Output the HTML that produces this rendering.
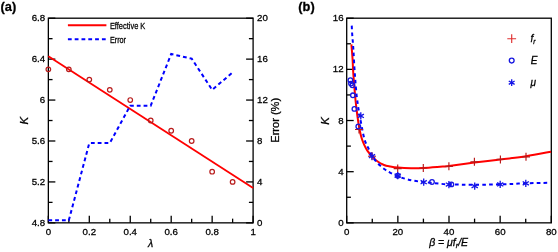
<!DOCTYPE html>
<html><head><meta charset="utf-8"><style>html,body{margin:0;padding:0;background:#fff;width:558px;height:252px;overflow:hidden}</style></head>
<body><svg width="558" height="252" viewBox="0 0 558 252" style="display:block;will-change:transform" font-family='"Liberation Sans", sans-serif'><style>text{stroke:#000;stroke-width:0.28px;paint-order:stroke}</style><rect width="558" height="252" fill="#fff"/><rect x="48.35" y="18.20" width="204.75" height="204.65" fill="none" stroke="#000" stroke-width="1.3"/><line x1="48.35" y1="222.85" x2="48.35" y2="215.85" stroke="#000" stroke-width="1.3"/><line x1="68.83" y1="222.85" x2="68.83" y2="218.65" stroke="#000" stroke-width="1.3"/><line x1="89.30" y1="222.85" x2="89.30" y2="215.85" stroke="#000" stroke-width="1.3"/><line x1="109.78" y1="222.85" x2="109.78" y2="218.65" stroke="#000" stroke-width="1.3"/><line x1="130.25" y1="222.85" x2="130.25" y2="215.85" stroke="#000" stroke-width="1.3"/><line x1="150.72" y1="222.85" x2="150.72" y2="218.65" stroke="#000" stroke-width="1.3"/><line x1="171.20" y1="222.85" x2="171.20" y2="215.85" stroke="#000" stroke-width="1.3"/><line x1="191.67" y1="222.85" x2="191.67" y2="218.65" stroke="#000" stroke-width="1.3"/><line x1="212.15" y1="222.85" x2="212.15" y2="215.85" stroke="#000" stroke-width="1.3"/><line x1="232.62" y1="222.85" x2="232.62" y2="218.65" stroke="#000" stroke-width="1.3"/><line x1="253.10" y1="222.85" x2="253.10" y2="215.85" stroke="#000" stroke-width="1.3"/><text x="48.35" y="235.30" text-anchor="middle" font-size="9.7" >0</text><text x="89.30" y="235.30" text-anchor="middle" font-size="9.7" >0.2</text><text x="130.25" y="235.30" text-anchor="middle" font-size="9.7" >0.4</text><text x="171.20" y="235.30" text-anchor="middle" font-size="9.7" >0.6</text><text x="212.15" y="235.30" text-anchor="middle" font-size="9.7" >0.8</text><text x="253.10" y="235.30" text-anchor="middle" font-size="9.7" >1</text><line x1="48.35" y1="222.85" x2="55.35" y2="222.85" stroke="#000" stroke-width="1.3"/><line x1="48.35" y1="202.38" x2="52.55" y2="202.38" stroke="#000" stroke-width="1.3"/><line x1="48.35" y1="181.92" x2="55.35" y2="181.92" stroke="#000" stroke-width="1.3"/><line x1="48.35" y1="161.45" x2="52.55" y2="161.45" stroke="#000" stroke-width="1.3"/><line x1="48.35" y1="140.99" x2="55.35" y2="140.99" stroke="#000" stroke-width="1.3"/><line x1="48.35" y1="120.52" x2="52.55" y2="120.52" stroke="#000" stroke-width="1.3"/><line x1="48.35" y1="100.06" x2="55.35" y2="100.06" stroke="#000" stroke-width="1.3"/><line x1="48.35" y1="79.59" x2="52.55" y2="79.59" stroke="#000" stroke-width="1.3"/><line x1="48.35" y1="59.13" x2="55.35" y2="59.13" stroke="#000" stroke-width="1.3"/><line x1="48.35" y1="38.67" x2="52.55" y2="38.67" stroke="#000" stroke-width="1.3"/><line x1="48.35" y1="18.20" x2="55.35" y2="18.20" stroke="#000" stroke-width="1.3"/><text x="45.20" y="225.85" text-anchor="end" font-size="9.7" >4.8</text><text x="45.20" y="184.92" text-anchor="end" font-size="9.7" >5.2</text><text x="45.20" y="143.99" text-anchor="end" font-size="9.7" >5.6</text><text x="45.20" y="103.06" text-anchor="end" font-size="9.7" >6</text><text x="45.20" y="62.13" text-anchor="end" font-size="9.7" >6.4</text><text x="45.20" y="21.20" text-anchor="end" font-size="9.7" >6.8</text><line x1="253.10" y1="222.85" x2="246.10" y2="222.85" stroke="#000" stroke-width="1.3"/><line x1="253.10" y1="202.38" x2="248.90" y2="202.38" stroke="#000" stroke-width="1.3"/><line x1="253.10" y1="181.92" x2="246.10" y2="181.92" stroke="#000" stroke-width="1.3"/><line x1="253.10" y1="161.45" x2="248.90" y2="161.45" stroke="#000" stroke-width="1.3"/><line x1="253.10" y1="140.99" x2="246.10" y2="140.99" stroke="#000" stroke-width="1.3"/><line x1="253.10" y1="120.52" x2="248.90" y2="120.52" stroke="#000" stroke-width="1.3"/><line x1="253.10" y1="100.06" x2="246.10" y2="100.06" stroke="#000" stroke-width="1.3"/><line x1="253.10" y1="79.59" x2="248.90" y2="79.59" stroke="#000" stroke-width="1.3"/><line x1="253.10" y1="59.13" x2="246.10" y2="59.13" stroke="#000" stroke-width="1.3"/><line x1="253.10" y1="38.66" x2="248.90" y2="38.66" stroke="#000" stroke-width="1.3"/><line x1="253.10" y1="18.20" x2="246.10" y2="18.20" stroke="#000" stroke-width="1.3"/><text x="257.00" y="225.85" text-anchor="start" font-size="9.7" >0</text><text x="257.00" y="184.92" text-anchor="start" font-size="9.7" >4</text><text x="257.00" y="143.99" text-anchor="start" font-size="9.7" >8</text><text x="257.00" y="103.06" text-anchor="start" font-size="9.7" >12</text><text x="257.00" y="62.13" text-anchor="start" font-size="9.7" >16</text><text x="257.00" y="21.20" text-anchor="start" font-size="9.7" >20</text><text x="150.60" y="247.00" text-anchor="middle" font-size="10.5" font-style="italic">λ</text><text transform="translate(27.8,120.7) rotate(-90)" text-anchor="middle" font-size="11.4" font-style="italic">K</text><text transform="translate(279.0,120.3) rotate(-90)" text-anchor="middle" font-size="10.4" textLength="44.8" lengthAdjust="spacingAndGlyphs">Error (%)</text><line x1="48.35" y1="56.20" x2="253.10" y2="188.00" stroke="#ff0000" stroke-width="1.8"/><polyline points="48.35,220.29 68.83,220.29 89.30,143.04 109.78,143.04 130.25,105.69 150.72,105.69 171.20,54.01 191.67,58.62 212.15,89.83 232.62,72.43" fill="none" stroke="#0000ff" stroke-width="2" stroke-dasharray="3.8 3"/><circle cx="48.35" cy="69.36" r="2.3" fill="none" stroke="#b81c1c" stroke-width="1.2"/><circle cx="68.83" cy="69.36" r="2.3" fill="none" stroke="#b81c1c" stroke-width="1.2"/><circle cx="89.30" cy="79.59" r="2.3" fill="none" stroke="#b81c1c" stroke-width="1.2"/><circle cx="109.78" cy="89.83" r="2.3" fill="none" stroke="#b81c1c" stroke-width="1.2"/><circle cx="130.25" cy="100.06" r="2.3" fill="none" stroke="#b81c1c" stroke-width="1.2"/><circle cx="150.72" cy="120.52" r="2.3" fill="none" stroke="#b81c1c" stroke-width="1.2"/><circle cx="171.20" cy="130.76" r="2.3" fill="none" stroke="#b81c1c" stroke-width="1.2"/><circle cx="191.67" cy="140.99" r="2.3" fill="none" stroke="#b81c1c" stroke-width="1.2"/><circle cx="212.15" cy="171.69" r="2.3" fill="none" stroke="#b81c1c" stroke-width="1.2"/><circle cx="232.62" cy="181.92" r="2.3" fill="none" stroke="#b81c1c" stroke-width="1.2"/><line x1="67.90" y1="25.30" x2="106.40" y2="25.30" stroke="#ff0000" stroke-width="2.0"/><line x1="67.9" y1="39.2" x2="106.4" y2="39.2" stroke="#0000ff" stroke-width="2" stroke-dasharray="3.8 3"/><text x="109.90" y="28.60" text-anchor="start" font-size="9.8" textLength="35.4" lengthAdjust="spacingAndGlyphs">Effective K</text><text x="109.90" y="42.60" text-anchor="start" font-size="9.8" textLength="16.1" lengthAdjust="spacingAndGlyphs">Error</text><text x="0.60" y="11.00" text-anchor="start" font-size="12.8" font-weight="bold">(a)</text><rect x="346.70" y="18.20" width="204.60" height="204.65" fill="none" stroke="#000" stroke-width="1.3"/><line x1="346.70" y1="222.85" x2="346.70" y2="215.85" stroke="#000" stroke-width="1.3"/><line x1="372.27" y1="222.85" x2="372.27" y2="218.65" stroke="#000" stroke-width="1.3"/><line x1="397.85" y1="222.85" x2="397.85" y2="215.85" stroke="#000" stroke-width="1.3"/><line x1="423.42" y1="222.85" x2="423.42" y2="218.65" stroke="#000" stroke-width="1.3"/><line x1="449.00" y1="222.85" x2="449.00" y2="215.85" stroke="#000" stroke-width="1.3"/><line x1="474.57" y1="222.85" x2="474.57" y2="218.65" stroke="#000" stroke-width="1.3"/><line x1="500.15" y1="222.85" x2="500.15" y2="215.85" stroke="#000" stroke-width="1.3"/><line x1="525.72" y1="222.85" x2="525.72" y2="218.65" stroke="#000" stroke-width="1.3"/><line x1="551.30" y1="222.85" x2="551.30" y2="215.85" stroke="#000" stroke-width="1.3"/><text x="346.70" y="235.30" text-anchor="middle" font-size="9.7" >0</text><text x="397.85" y="235.30" text-anchor="middle" font-size="9.7" >20</text><text x="449.00" y="235.30" text-anchor="middle" font-size="9.7" >40</text><text x="500.15" y="235.30" text-anchor="middle" font-size="9.7" >60</text><text x="551.30" y="235.30" text-anchor="middle" font-size="9.7" >80</text><line x1="346.70" y1="222.85" x2="353.70" y2="222.85" stroke="#000" stroke-width="1.3"/><line x1="346.70" y1="197.27" x2="350.90" y2="197.27" stroke="#000" stroke-width="1.3"/><line x1="346.70" y1="171.69" x2="353.70" y2="171.69" stroke="#000" stroke-width="1.3"/><line x1="346.70" y1="146.11" x2="350.90" y2="146.11" stroke="#000" stroke-width="1.3"/><line x1="346.70" y1="120.52" x2="353.70" y2="120.52" stroke="#000" stroke-width="1.3"/><line x1="346.70" y1="94.94" x2="350.90" y2="94.94" stroke="#000" stroke-width="1.3"/><line x1="346.70" y1="69.36" x2="353.70" y2="69.36" stroke="#000" stroke-width="1.3"/><line x1="346.70" y1="43.78" x2="350.90" y2="43.78" stroke="#000" stroke-width="1.3"/><line x1="346.70" y1="18.20" x2="353.70" y2="18.20" stroke="#000" stroke-width="1.3"/><text x="343.60" y="225.85" text-anchor="end" font-size="9.7" >0</text><text x="343.60" y="174.69" text-anchor="end" font-size="9.7" >4</text><text x="343.60" y="123.52" text-anchor="end" font-size="9.7" >8</text><text x="343.60" y="72.36" text-anchor="end" font-size="9.7" >12</text><text x="343.60" y="21.20" text-anchor="end" font-size="9.7" >16</text><text transform="translate(329.0,120.9) rotate(-90)" text-anchor="middle" font-size="11.4" font-style="italic">K</text><text x="448.6" y="246.4" text-anchor="middle" font-size="10.5" font-style="italic">β = μf<tspan font-size="7" dy="2">r</tspan><tspan dy="-2">/E</tspan></text><path d="M351.40,44.40C351.58,46.67 352.20,53.40 352.50,58.00C352.80,62.60 352.90,67.33 353.20,72.00C353.50,76.67 353.92,81.33 354.30,86.00C354.68,90.67 354.98,95.00 355.50,100.00C356.02,105.00 356.75,111.25 357.40,116.00C358.05,120.75 358.75,125.00 359.40,128.50C360.05,132.00 360.53,134.35 361.30,137.00C362.07,139.65 363.00,142.13 364.00,144.40C365.00,146.67 365.97,148.63 367.30,150.60C368.63,152.57 370.33,154.42 372.00,156.20C373.67,157.98 375.30,159.83 377.30,161.30C379.30,162.77 381.88,164.13 384.00,165.00C386.12,165.87 387.70,166.07 390.00,166.50C392.30,166.93 394.30,167.32 397.80,167.60C401.30,167.88 406.75,168.13 411.00,168.20C415.25,168.27 418.47,168.23 423.30,168.00C428.13,167.77 435.73,167.13 440.00,166.80C444.27,166.47 443.17,166.70 448.90,166.00C454.63,165.30 465.82,163.70 474.40,162.60C482.98,161.50 491.80,160.45 500.40,159.40C509.00,158.35 517.57,157.58 526.00,156.30C534.43,155.02 546.83,152.47 551.00,151.70" fill="none" stroke="#ff0000" stroke-width="2"/><path d="M351.75,25.60C351.82,27.05 352.02,31.65 352.20,34.30C352.38,36.95 352.62,39.13 352.80,41.50C352.98,43.87 353.15,46.25 353.30,48.50C353.45,50.75 353.53,52.08 353.70,55.00C353.87,57.92 354.08,62.50 354.30,66.00C354.52,69.50 354.78,73.00 355.00,76.00C355.22,79.00 355.32,80.67 355.60,84.00C355.88,87.33 356.32,92.50 356.70,96.00C357.08,99.50 357.52,102.33 357.90,105.00C358.28,107.67 358.60,109.67 359.00,112.00C359.40,114.33 359.73,116.00 360.30,119.00C360.87,122.00 361.70,126.58 362.40,130.00C363.10,133.42 363.82,137.08 364.50,139.50C365.18,141.92 365.82,142.98 366.50,144.50C367.18,146.02 367.68,146.75 368.60,148.60C369.52,150.45 370.82,153.55 372.00,155.60C373.18,157.65 374.35,159.25 375.70,160.90C377.05,162.55 378.55,164.07 380.10,165.50C381.65,166.93 383.35,168.32 385.00,169.50C386.65,170.68 387.83,171.47 390.00,172.60C392.17,173.73 395.50,175.28 398.00,176.30C400.50,177.32 402.67,178.02 405.00,178.70C407.33,179.38 408.92,179.83 412.00,180.40C415.08,180.97 419.05,181.57 423.50,182.10C427.95,182.63 434.52,183.23 438.70,183.60C442.88,183.97 442.72,184.10 448.60,184.30C454.48,184.50 464.62,184.82 474.00,184.80C483.38,184.78 496.27,184.45 504.90,184.20C513.53,183.95 518.70,183.53 525.80,183.30C532.90,183.07 543.88,182.88 547.50,182.80" fill="none" stroke="#0000ff" stroke-width="2" stroke-dasharray="3.6 3.2"/><path d="M355.00,129.50H363.00M359.00,125.50V133.50" stroke="#b81818" stroke-width="1.15"/><path d="M368.00,156.20H376.00M372.00,152.20V160.20" stroke="#b81818" stroke-width="1.15"/><path d="M393.70,168.60H401.70M397.70,164.60V172.60" stroke="#b81818" stroke-width="1.15"/><path d="M419.30,168.00H427.30M423.30,164.00V172.00" stroke="#b81818" stroke-width="1.15"/><path d="M444.90,166.30H452.90M448.90,162.30V170.30" stroke="#b81818" stroke-width="1.15"/><path d="M470.40,161.80H478.40M474.40,157.80V165.80" stroke="#b81818" stroke-width="1.15"/><path d="M496.40,159.40H504.40M500.40,155.40V163.40" stroke="#b81818" stroke-width="1.15"/><path d="M522.00,156.80H530.00M526.00,152.80V160.80" stroke="#b81818" stroke-width="1.15"/><circle cx="350.40" cy="80.20" r="2.3" fill="none" stroke="#1616e0" stroke-width="1.3"/><circle cx="351.00" cy="83.60" r="2.3" fill="none" stroke="#1616e0" stroke-width="1.3"/><circle cx="352.40" cy="85.30" r="2.3" fill="none" stroke="#1616e0" stroke-width="1.3"/><circle cx="352.90" cy="95.30" r="2.3" fill="none" stroke="#1616e0" stroke-width="1.3"/><circle cx="354.40" cy="108.90" r="2.3" fill="none" stroke="#1616e0" stroke-width="1.3"/><circle cx="358.30" cy="126.50" r="2.3" fill="none" stroke="#1616e0" stroke-width="1.3"/><circle cx="432.00" cy="182.00" r="2.3" fill="none" stroke="#1616e0" stroke-width="1.3"/><circle cx="451.40" cy="184.40" r="2.3" fill="none" stroke="#1616e0" stroke-width="1.3"/><circle cx="397.70" cy="175.70" r="2.3" fill="none" stroke="#1616e0" stroke-width="1.3"/><path d="M360.80,112.30V119.50M357.68,114.10L363.92,117.70M363.92,114.10L357.68,117.70" stroke="#1414e6" stroke-width="1.3"/><path d="M372.00,152.60V159.80M368.88,154.40L375.12,158.00M375.12,154.40L368.88,158.00" stroke="#1414e6" stroke-width="1.3"/><path d="M397.70,172.10V179.30M394.58,173.90L400.82,177.50M400.82,173.90L394.58,177.50" stroke="#1414e6" stroke-width="1.3"/><path d="M423.70,178.60V185.80M420.58,180.40L426.82,184.00M426.82,180.40L420.58,184.00" stroke="#1414e6" stroke-width="1.3"/><path d="M448.90,181.00V188.20M445.78,182.80L452.02,186.40M452.02,182.80L445.78,186.40" stroke="#1414e6" stroke-width="1.3"/><path d="M474.70,182.50V189.70M471.58,184.30L477.82,187.90M477.82,184.30L471.58,187.90" stroke="#1414e6" stroke-width="1.3"/><path d="M500.20,180.80V188.00M497.08,182.60L503.32,186.20M503.32,182.60L497.08,186.20" stroke="#1414e6" stroke-width="1.3"/><path d="M525.80,179.70V186.90M522.68,181.50L528.92,185.10M528.92,181.50L522.68,185.10" stroke="#1414e6" stroke-width="1.3"/><path d="M507.30,38.70H516.10M511.70,34.30V43.10" stroke="#e03030" stroke-width="1.15"/><circle cx="511.70" cy="60.60" r="2.4" fill="none" stroke="#1616e0" stroke-width="1.3"/><path d="M511.70,79.30V86.10M508.76,81.00L514.64,84.40M514.64,81.00L508.76,84.40" stroke="#1414e6" stroke-width="1.3"/><text x="530.4" y="41.6" font-size="10" font-style="italic">f<tspan font-size="6.5" dy="2.2">r</tspan></text><text x="530.80" y="63.80" text-anchor="start" font-size="10" font-style="italic">E</text><text x="530.40" y="85.60" text-anchor="start" font-size="10" font-style="italic">μ</text><text x="298.30" y="10.80" text-anchor="start" font-size="12.8" font-weight="bold">(b)</text></svg></body></html>
